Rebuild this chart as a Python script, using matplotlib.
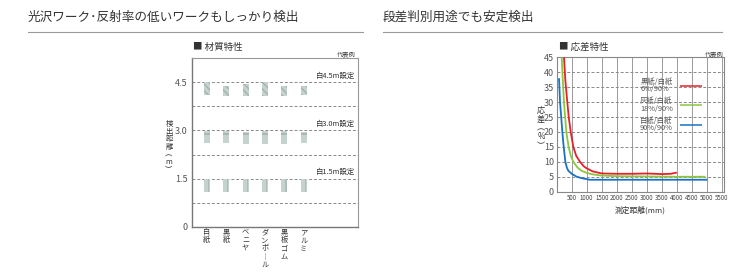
import matplotlib
matplotlib.use("Agg")
import matplotlib.pyplot as plt
import numpy as np

plt.rcParams['font.family'] = ['Noto Sans CJK JP', 'DejaVu Sans']

# ---- left chart data: detection distance ranges per material ----
materials = ['白紙', '黒紙', 'ベニヤ', 'ダンボール', '黒板ゴム', 'アルミ']
settings = ['白4.5m設定', '白3.0m設定', '白1.5m設定']
setting_levels = [4.5, 3.0, 1.5]
top_45 = [4.50, 4.39, 4.44, 4.50, 4.39, 4.39]
bot_45 = [4.10, 4.08, 4.07, 4.06, 4.08, 4.10]
top_30 = [2.97, 2.97, 2.96, 2.97, 2.97, 2.96]
bot_30 = [2.60, 2.60, 2.59, 2.58, 2.59, 2.60]
top_15 = [1.49, 1.49, 1.49, 1.49, 1.49, 1.49]
bot_15 = [1.09, 1.09, 1.08, 1.08, 1.09, 1.08]

# ---- right chart data: hysteresis vs distance ----
red_x = [243, 260, 290, 353, 400, 467, 553, 650, 777, 900, 1000, 1200, 1500,
         2000, 2500, 3000, 3500, 3800, 4000]
red_y = [45, 42, 37, 30, 25, 20, 15, 12, 10, 8.5, 7.8, 6.8, 6.1,
         6.0, 6.0, 6.1, 5.9, 6.0, 6.4]
green_x = [167, 190, 215, 243, 280, 320, 397, 470, 553, 700, 833, 1000, 1200,
           1500, 2000, 3000, 4000, 4950]
green_y = [45, 40, 35, 30, 25, 20, 15, 12, 10, 8, 7, 6.3, 5.8,
           5.4, 5.2, 5.1, 5.0, 5.0]
blue_x = [77, 90, 111, 150, 188, 233, 288, 340, 388, 500, 667, 850, 1000,
          1100, 2000, 3000, 4000, 5020]
blue_y = [38, 35, 30, 25, 20, 15, 10, 8, 7, 6, 5, 4.5, 4.2,
          4.0, 4.0, 4.0, 4.0, 4.0]
series_labels = ['黒紙/白紙\n6%/90%', '灰紙/白紙\n18%/90%', '白紙/白紙\n90%/90%']
series_colors = ['#e8202a', '#8cc63f', '#1a72c4']

W, H = 730, 272
fig = plt.figure(figsize=(W / 100, H / 100), dpi=100)


def fx(px):
    return px / W


def fy(py):
    return 1 - py / H


TXT = '#333333'
GRID = '#8a8a8a'

# section titles and rules
fig.text(fx(28), fy(17), '光沢ワーク･反射率の低いワークもしっかり検出', fontsize=9.1,
         color=TXT, va='center', ha='left')
fig.text(fx(383), fy(17), '段差判別用途でも安定検出', fontsize=9.1,
         color=TXT, va='center', ha='left')
fig.add_artist(plt.Line2D([fx(28), fx(363)], [fy(32), fy(32)], color='#9a9a9a', lw=0.8))
fig.add_artist(plt.Line2D([fx(383), fx(722)], [fy(32), fy(32)], color='#9a9a9a', lw=0.8))

# ---------------- left chart ----------------
ax1 = fig.add_axes([fx(192), fy(226.7), fx(358 - 192), (226.7 - 58) / H])
x = np.arange(len(materials))
bw = 0.31
for lvl in [0.75, 1.5, 2.25, 3.0, 3.75, 4.5]:
    ax1.axhline(lvl, color=GRID, lw=0.7, ls=(0, (3, 2)), zorder=1)
ax1.bar(x, np.array(top_45) - np.array(bot_45), bottom=bot_45, width=bw,
        color='#c6d2d0', edgecolor='#a3b3b0', hatch='\\\\\\\\\\', lw=0, zorder=2)
ax1.bar(x, np.array(top_30) - np.array(bot_30), bottom=bot_30, width=bw,
        color='#c6d2d0', lw=0, zorder=2)
ax1.bar(x, np.full(len(x), 0.06), bottom=np.array(top_30) - 0.1, width=bw,
        color='#a9b8b5', lw=0, zorder=3)
ax1.bar(x, np.array(top_15) - np.array(bot_15), bottom=bot_15, width=bw,
        color='#c6d2d0', lw=0, zorder=2)
ax1.bar(x + bw * 0.28, np.array(top_15) - np.array(bot_15), bottom=bot_15, width=bw * 0.18,
        color='#adbcb9', lw=0, zorder=3)
for lbl, lvl in zip(settings, setting_levels):
    ax1.text(7.65, lvl + 0.08, lbl, fontsize=5.3, color=TXT, ha='right', va='bottom')
ax1.set_xlim(-0.76, 7.8)
ax1.set_ylim(0, 5.26)
ax1.set_yticks([0, 1.5, 3.0, 4.5])
ax1.set_yticklabels(['0', '1.5', '3.0', '4.5'], fontsize=6.5, color='#555555')
ax1.set_xticks(x)
vert = [m.replace('ー', '︱') for m in materials]
ax1.set_xticklabels(['\n'.join(list(m)) for m in vert], fontsize=5.2, color=TXT,
                    va='top', linespacing=1.05)
ax1.tick_params(axis='y', length=0, pad=3)
ax1.tick_params(axis='x', length=0, pad=1)
for s in ['left', 'bottom']:
    ax1.spines[s].set_color('#777777')
    ax1.spines[s].set_linewidth(1.0)
for s in ['top', 'right']:
    ax1.spines[s].set_color('#999999')
    ax1.spines[s].set_linewidth(0.8)
fig.text(fx(169), fy(147), '検\n出\n距\n離\n︵\nm\n︶', fontsize=5.3, color=TXT,
         ha='center', va='center', linespacing=0.95)
fig.text(fx(193), fy(47.5), '■ 材質特性', fontsize=6.8, color=TXT, va='center', ha='left')
fig.text(fx(356), fy(54), '代表例', fontsize=4.5, color=TXT, va='center', ha='right')

# ---------------- right chart ----------------
ax2 = fig.add_axes([fx(556.7), fy(191.7), fx(724 - 556.7), (191.7 - 57.3) / H])
for v in np.arange(500, 5501, 500):
    ax2.axvline(v, color='#9a9a9a', lw=0.7, zorder=1)
for h in np.arange(5, 45, 5):
    ax2.axhline(h, color=GRID, lw=0.7, ls=(0, (3, 2)), zorder=1)
for xs, ys, lbl, c in zip([red_x, green_x, blue_x], [red_y, green_y, blue_y],
                          series_labels, series_colors):
    ax2.plot(xs, ys, color=c, lw=1.3, label=lbl, zorder=3, solid_capstyle='butt')
ax2.set_xlim(0, 5570)
ax2.set_ylim(0, 45)
ax2.set_yticks(np.arange(0, 46, 5))
ax2.set_yticklabels([str(v) for v in range(0, 46, 5)], fontsize=6.5, color='#555555')
ax2.set_xticks(np.arange(500, 5501, 500))
ax2.set_xticklabels([str(v) for v in range(500, 5501, 500)], fontsize=4.4, color='#444444')
ax2.tick_params(length=0, pad=2)
for s in ax2.spines.values():
    s.set_color('#888888')
    s.set_linewidth(0.8)
ax2.set_xlabel('測定距離(mm)', fontsize=5.6, color=TXT, labelpad=3)
leg = ax2.legend(loc='upper left', bbox_to_anchor=(0.475, 0.875), frameon=False,
                 markerfirst=False, fontsize=5.3, handlelength=3.0, handletextpad=1.0,
                 labelspacing=0.5, borderpad=0)
for t in leg.get_texts():
    t.set_color('#555555')
    t.set_linespacing(0.95)
for ln in leg.get_lines():
    ln.set_linewidth(1.1)
fig.text(fx(541), fy(128), '応\n差\n︵\n%\n︶', fontsize=5.8, color=TXT,
         ha='center', va='center', linespacing=0.95)
fig.text(fx(559), fy(47.5), '■ 応差特性', fontsize=6.8, color=TXT, va='center', ha='left')
fig.text(fx(724), fy(54), '代表例', fontsize=4.5, color=TXT, va='center', ha='right')

fig.savefig('out.png', dpi=100)
